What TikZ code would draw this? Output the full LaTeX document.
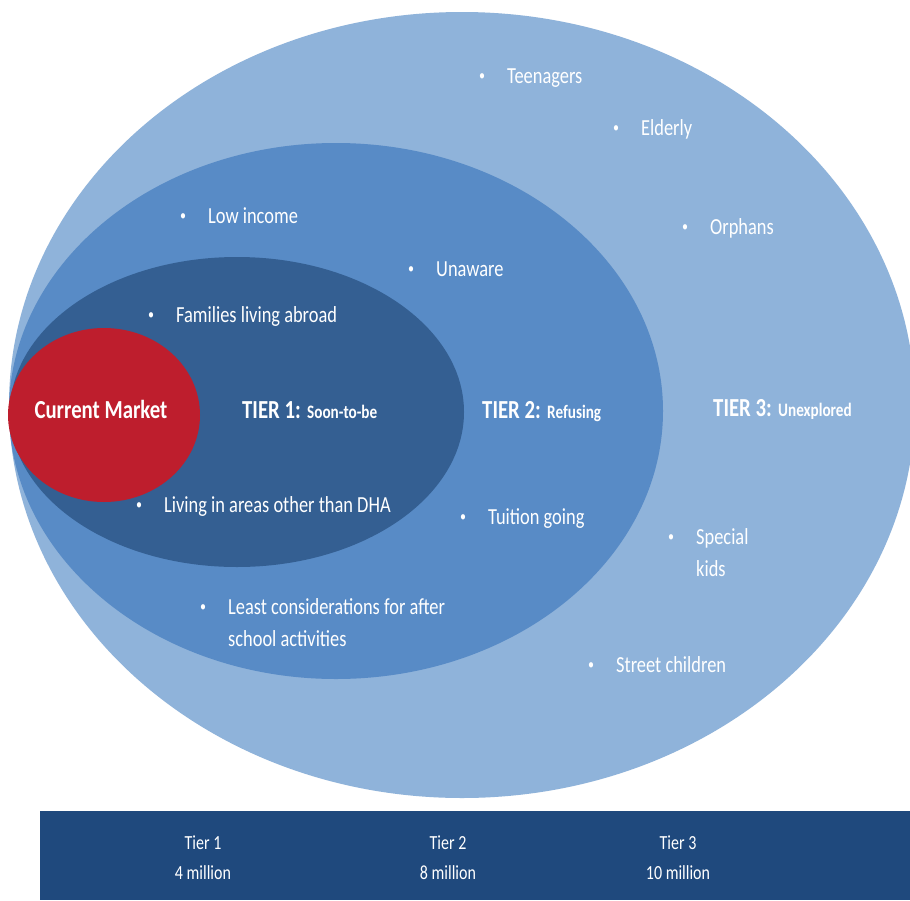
\documentclass[tikz,border=0pt]{standalone}
\usepackage{fontspec}
\setmainfont{Carlito}[FakeStretch=0.8]
\definecolor{tierthree}{HTML}{8FB3DA}
\definecolor{tiertwo}{HTML}{588BC6}
\definecolor{tierone}{HTML}{345F92}
\definecolor{marketred}{HTML}{BE1E2D}
\definecolor{barblue}{HTML}{1F497D}
\newcommand{\bitem}[1]{\begin{tabular}[t]{@{}p{28pt}@{}l@{}}\raisebox{2.5pt}{\fontsize{15}{15}\selectfont\textbullet} & \begin{tabular}[t]{@{}l@{}}#1\end{tabular}\end{tabular}}
\newcommand{\tiersub}[1]{{\fontsize{19}{22}\selectfont #1}}
\begin{document}
\begin{tikzpicture}[x=1pt,y=-1pt]
	\def \midrow{418}
	\tikzstyle{item}=[anchor=base west,inner sep=0pt,text=white,font=\fontsize{23}{32}\selectfont]
	\tikzstyle{tier}=[anchor=base west,inner sep=0pt,text=white,font=\bfseries\fontsize{26}{30}\selectfont]
	\tikzstyle{bar-text}=[align=center,inner sep=0pt,text=white,font=\fontsize{20}{30}\selectfont]
	\clip (0,0) rectangle (910,900);
	\fill[white] (0,0) rectangle (910,900);

	% rings
	\fill[tierthree] (462,405) ellipse (453pt and 393pt);
	\fill[tiertwo] (336,411) ellipse (327pt and 268pt);
	\fill[tierone] (237,412) ellipse (227pt and 155pt);
	\fill[marketred] (104,415) ellipse (96pt and 87pt);

	% labels
	\node[tier,anchor=base] (market) at (101,\midrow) {Current Market};
	\node[tier] (tier-1) at (242,\midrow) {TIER 1: \tiersub{Soon-to-be}};
	\node[tier] (tier-2) at (482,\midrow) {TIER 2: \tiersub{Refusing}};
	\node[tier] (tier-3) at (713,416) {TIER 3: \tiersub{Unexplored}};

	% tier 1
	\node[item] (abroad) at (148,322) {\bitem{Families living abroad}};
	\node[item] (areas) at (136,512) {\bitem{Living in areas other than DHA}};

	% tier 2
	\node[item] (low) at (180,223) {\bitem{Low income}};
	\node[item] (unaware) at (408,276) {\bitem{Unaware}};
	\node[item] (tuition) at (460,524) {\bitem{Tuition going}};
	\node[item] (least) at (200,614) {\bitem{Least considerations for after\\school activities}};

	% tier 3
	\node[item] (teen) at (479,83) {\bitem{Teenagers}};
	\node[item] (elderly) at (613,135) {\bitem{Elderly}};
	\node[item] (orphans) at (682,234) {\bitem{Orphans}};
	\node[item] (special) at (668,544) {\bitem{Special\\kids}};
	\node[item] (street) at (588,672) {\bitem{Street children}};

	% size bar
	\fill[barblue] (40,811) rectangle (910,900);
	\node[bar-text] (size-1) at (203,858) {Tier 1\\4 million};
	\node[bar-text] (size-2) at (448,858) {Tier 2\\8 million};
	\node[bar-text] (size-3) at (678,858) {Tier 3\\10 million};
\end{tikzpicture}
\end{document}
